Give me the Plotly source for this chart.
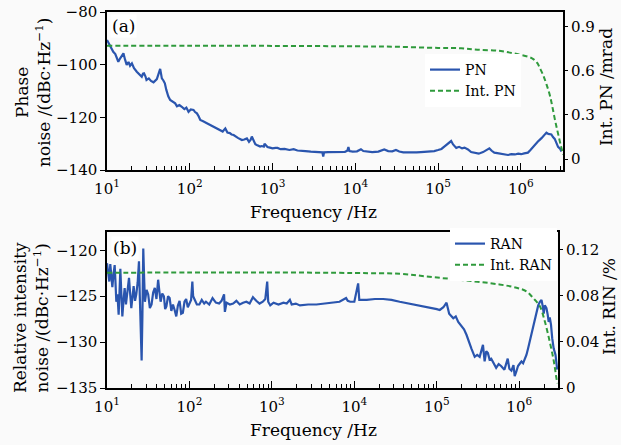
import plotly.graph_objects as go

# ---------------- data ----------------
pn_freq = [10, 10.5, 11.2, 11.9, 12.6, 13.7, 14.5, 15.3, 15.8, 16.5, 17.3, 18.2, 19.0, 20, 21.2, 22.9,
           24.5, 26.3, 27.2, 28, 29.2, 30, 32, 34, 36.5, 38.5, 40, 41.5, 43.9, 45, 46, 48, 50, 52, 55,
           58, 62, 66.7, 70, 75, 80, 86, 91, 96.6, 103, 111, 116, 122, 128, 134, 145, 155, 165, 177,
           190, 205, 220, 234, 250, 269, 285, 305, 320, 339, 360, 385, 405, 427, 455, 490, 520, 545,
           562, 590, 620, 646, 680, 708, 740, 785, 800, 830, 870, 930, 1000, 1090, 1150, 1250, 1400,
           1600, 1800, 2000, 2200, 2500, 2900, 3300, 3800, 4000, 4100, 4200, 4700, 5500, 6500, 7500,
           8000, 8260, 8500, 9300, 10500, 11700, 12500, 14000, 16000, 19000, 22400, 25000, 28000,
           31000, 34000, 38000, 45000, 55000, 62000, 75000, 90000, 100000, 110000, 120000, 132000,
           144000, 152000, 166000, 180000, 195000, 209000, 230000, 251000, 280000, 310000, 350000,
           390000, 417000, 445000, 479000, 520000, 575000, 630000, 700000, 770000, 850000, 930000,
           1010000, 1100000, 1220000, 1300000, 1400000, 1470000, 1600000, 1780000, 1900000, 2040000,
           2150000, 2340000, 2450000, 2570000, 2700000, 2820000, 3000000, 3100000]
pn_val = [-90.6, -92.0, -93.5, -95.1, -96.0, -98.9, -97.5, -96.2, -95.7, -98.0, -100.1, -99.0, -100.4,
          -99.5, -101.3, -102.7, -103.8, -104.6, -103.4, -103.3, -104.5, -105.8, -105.2, -106.2, -106.7,
          -105.9, -105.5, -104.0, -101.6, -103.5, -105.2, -106.0, -107.1, -109.5, -112.0, -113.4, -114.2,
          -114.7, -115.8, -115.3, -116.0, -116.9, -116.3, -117.9, -117.0, -117.2, -118.0, -118.5, -119.6,
          -121.0, -121.5, -122.0, -122.4, -122.9, -123.5, -123.9, -124.5, -124.8, -125.4, -124.2, -125.8,
          -126.0, -126.5, -126.7, -127.4, -127.9, -128.2, -128.6, -128.4, -128.0, -129.3, -128.5, -127.3,
          -129.0, -130.2, -130.5, -130.8, -131.1, -130.9, -131.1, -130.0, -130.6, -131.3, -131.5, -131.8,
          -131.6, -131.6, -132.1, -132.0, -132.4, -132.1, -132.6, -132.6, -132.8, -133.0, -133.1, -133.2,
          -133.3, -134.9, -133.3, -133.2, -133.1, -133.0, -133.1, -132.7, -131.3, -132.8, -133.0, -132.9,
          -132.1, -132.8, -133.1, -133.2, -133.0, -132.2, -132.8, -132.9, -132.4, -133.0, -133.3, -133.4,
          -133.3, -133.2, -133.0, -132.8, -132.4, -132.0, -131.0, -130.0, -129.0, -130.3, -131.6, -131.2,
          -131.8, -131.5, -132.2, -133.2, -133.4, -133.8, -133.2, -132.4, -131.8, -132.7, -133.4, -133.6,
          -133.8, -134.0, -134.3, -134.0, -134.1, -133.8, -134.0, -133.7, -133.4, -132.5, -131.2, -130.5,
          -129.3, -127.9, -126.8, -125.8, -126.3, -126.5, -127.5, -128.2, -129.8, -131.2, -132.0, -133.0]

intpn_freq = [10, 100, 1000, 10000, 31600, 100000, 190000, 300000, 575000, 900000, 1230000, 1400000,
              1580000, 1700000, 1860000, 2040000, 2240000, 2400000, 2570000, 2750000, 2950000, 3100000, 3240000]
intpn_val = [0.772, 0.772, 0.771, 0.768, 0.765, 0.757, 0.755, 0.745, 0.736, 0.715, 0.697, 0.683,
             0.655, 0.620, 0.573, 0.510, 0.436, 0.360, 0.275, 0.200, 0.125, 0.075, 0.030]

ran_freq = [10, 10.3, 10.66, 10.96, 11.27, 11.61, 12.0, 12.39, 12.68, 12.97, 13.4, 13.84, 14.19, 14.52,
            14.93, 15.35, 15.85, 16.37, 16.98, 17.7, 18.49, 19.05, 19.72, 20.42, 21.04, 21.88, 22.65,
            23.55, 24.43, 25.0, 25.59, 26.3, 26.9, 27.3, 27.54, 28.2, 28.84, 30.2, 31.6, 33.1, 34.7,
            36.3, 38.0, 39.8, 41.7, 43.2, 44.7, 46.8, 49.0, 50.7, 52.5, 55.0, 57.5, 60.3, 63.1, 66.1,
            69.2, 72.4, 75.9, 79.4, 83.2, 87.1, 91.2, 95.5, 100, 104.7, 108.4, 110.9, 114.8, 123, 131.8,
            141, 151, 158.5, 173.8, 190.5, 209, 229, 245, 263, 269, 282, 309, 339, 371, 407, 447, 490,
            537, 589, 646, 708, 776, 832, 877, 902, 955, 1047, 1202, 1380, 1514, 1652, 1738, 1950, 2188,
            2754, 3467, 4365, 5495, 6607, 7943, 8318, 8913, 10000, 11117, 11480, 14125, 17783, 22387,
            28184, 35481, 46774, 56234, 70795, 90157, 100000, 108643, 120226, 131220, 136457, 141254,
            158489, 169824, 181970, 199526, 213796, 229087, 245471, 263027, 288403, 309030, 331131,
            363078, 380189, 398107, 416869, 436516, 457088, 489779, 524807, 562341, 602560, 660693,
            724436, 758578, 803526, 851138, 881049, 922571, 966051, 1023293, 1064143, 1114295, 1166810,
            1221800, 1279381, 1348963, 1412538, 1479108, 1548817, 1621810, 1698244, 1778279, 1862087,
            1927525, 1981527, 2041738, 2137962, 2213095, 2275097, 2344229, 2426610, 2511886, 2618183,
            2754229, 2818383, 2884032]
ran_val = [-121.4, -122.5, -123.4, -121.5, -122.8, -124.0, -122.6, -121.6, -123.5, -125.6, -124.8, -127.0,
           -124.5, -122.0, -124.8, -127.2, -125.5, -124.1, -125.9, -124.4, -123.0, -124.6, -126.3, -125.0,
           -123.9, -125.5, -124.8, -123.5, -121.2, -125.0, -129.8, -132.0, -127.0, -122.0, -119.8, -123.0,
           -125.6, -124.3, -124.8, -126.3, -125.9, -124.6, -124.1, -125.3, -123.2, -124.5, -125.6, -124.7,
           -125.0, -126.4, -126.1, -125.0, -125.2, -126.6, -125.9, -126.5, -127.2, -126.0, -125.5, -126.9,
           -126.8, -125.6, -125.3, -126.2, -125.8, -125.4, -123.4, -125.0, -125.3, -125.9, -125.9, -125.4,
           -125.8, -125.6, -125.9, -125.2, -125.7, -125.8, -125.5, -124.8, -126.7, -125.7, -125.9, -125.8,
           -125.5, -125.9, -125.7, -125.6, -125.8, -125.1, -125.5, -125.8, -125.6, -125.3, -123.4, -125.6,
           -126.0, -125.7, -125.9, -125.7, -125.8, -125.4, -125.9, -125.8, -126.0, -125.9, -125.9, -125.8,
           -125.7, -125.6, -125.2, -125.5, -125.6, -125.6, -123.6, -125.4, -125.4, -125.3, -125.3, -125.4,
           -125.6, -125.8, -126.0, -126.1, -126.3, -126.4, -126.5, -126.2, -125.7, -126.3, -126.9, -127.4,
           -127.2, -127.8, -128.2, -128.6, -129.2, -130.0, -130.7, -131.6, -131.4, -131.6, -130.3, -132.1,
           -131.0, -131.2, -131.9, -131.8, -132.3, -132.8, -132.4, -132.6, -133.0, -131.8, -132.9, -133.1,
           -132.5, -133.7, -133.2, -132.6, -132.3, -132.1, -132.3, -131.9, -131.4, -130.7, -129.8, -128.9,
           -128.1, -127.4, -126.7, -126.0, -125.6, -125.4, -126.1, -126.9, -126.0, -126.3, -127.0, -127.8,
           -127.3, -128.1, -129.6, -130.7, -131.4, -132.5, -133.0]

intran_freq = [10, 100, 1000, 10000, 35481, 90157, 229000, 575000, 925000, 1220000, 1470000, 1780000,
               2040000, 2340000, 2630000, 2820000, 2900000]
intran_val = [0.0997, 0.1000, 0.1000, 0.0995, 0.0988, 0.0959, 0.0930, 0.0896, 0.0867, 0.0837, 0.0780,
              0.0707, 0.0577, 0.0403, 0.0229, 0.0087, 0.0040]

x_tickvals = [10, 100, 1000, 10000, 100000, 1000000]
x_ticktext = ["10<sup>1</sup>", "10<sup>2</sup>", "10<sup>3</sup>", "10<sup>4</sup>",
              "10<sup>5</sup>", "10<sup>6</sup>"]
x_minor = [m * 10 ** e for e in range(1, 7) for m in range(2, 10)]

# ---------------- styles ----------------
BLUE = "#2a55ae"
GREEN = "#2f9a3c"
FONT = "DejaVu Serif"
TICKF = dict(family=FONT, size=15, color="black")
DASH = "5px,3px"

fig = go.Figure()
fig.add_trace(go.Scatter(x=pn_freq, y=pn_val, mode="lines", name="PN",
                         line=dict(color=BLUE, width=2.2), xaxis="x", yaxis="y", legend="legend"))
fig.add_trace(go.Scatter(x=intpn_freq, y=intpn_val, mode="lines", name="Int. PN", line_shape="spline",
                         line=dict(color=GREEN, width=2, dash=DASH), xaxis="x", yaxis="y3", legend="legend"))
fig.add_trace(go.Scatter(x=ran_freq, y=ran_val, mode="lines", name="RAN",
                         line=dict(color=BLUE, width=2.2), xaxis="x2", yaxis="y2", legend="legend2"))
fig.add_trace(go.Scatter(x=intran_freq, y=intran_val, mode="lines", name="Int. RAN", line_shape="spline",
                         line=dict(color=GREEN, width=2, dash=DASH), xaxis="x2", yaxis="y4", legend="legend2"))

W, H = 621, 445
top_dom = [1 - 170 / H, 1 - 12 / H]
bot_dom = [1 - 388 / H, 1 - 232 / H]

xcommon = dict(type="log", tickmode="array", tickvals=x_tickvals, ticktext=x_ticktext,
               ticks="inside", ticklen=7, tickwidth=1.2, tickcolor="black",
               minor=dict(tickmode="array", tickvals=x_minor, ticks="inside", ticklen=4,
                          tickwidth=1, tickcolor="black"),
               showline=True, linecolor="black", linewidth=1.5, mirror=True, automargin=False,
               showgrid=False, zeroline=False, tickfont=TICKF, ticklabelstandoff=4)
ycommon = dict(ticks="outside", ticklen=5, tickwidth=1.2, tickcolor="black", automargin=False,
               showline=True, linecolor="black", linewidth=1.5, mirror=True,
               showgrid=False, zeroline=False, tickfont=TICKF)
rcommon = dict(ticks="outside", ticklen=4, tickwidth=1.2, tickcolor="black", automargin=False,
               showline=False, showgrid=False, zeroline=False, tickfont=TICKF, side="right")

LEGF = dict(family=FONT, size=14, color="black")
fig.update_layout(
    width=W, height=H,
    margin=dict(l=0, r=0, t=0, b=0, pad=0, autoexpand=False),
    paper_bgcolor="#fafafa", plot_bgcolor="#fafafa",
    font=dict(family=FONT, color="black"),
    xaxis=dict(domain=[107 / W, 563 / W], range=[1, 6.51], anchor="y", **xcommon),
    yaxis=dict(domain=top_dom, range=[-140, -80], tickvals=[-140, -120, -100, -80], anchor="x", **ycommon),
    yaxis3=dict(overlaying="y", anchor="x", range=[-0.075, 1.002], tickvals=[0, 0.3, 0.6, 0.9],
                ticktext=["0", "0.3", "0.6", "0.9"], **rcommon),
    xaxis2=dict(domain=[107 / W, 558 / W], range=[1, 6.47], anchor="y2", **xcommon),
    yaxis2=dict(domain=bot_dom, range=[-135, -118], tickvals=[-135, -130, -125, -120], anchor="x2", **ycommon),
    yaxis4=dict(overlaying="y2", anchor="x2", range=[0, 0.135], tickvals=[0, 0.04, 0.08, 0.12],
                ticktext=["0", "0.04", "0.08", "0.12"], **rcommon),
    legend=dict(x=425 / W, y=1 - 54 / H, xanchor="left", yanchor="top", bgcolor="white",
                font=LEGF, tracegroupgap=0, itemwidth=30),
    legend2=dict(x=450 / W, y=1 - 228 / H, xanchor="left", yanchor="top", bgcolor="white",
                 font=LEGF, tracegroupgap=0, itemwidth=30),
    showlegend=True,
)

ann = [
    dict(text="(a)", x=123 / W, y=1 - 26 / H, xanchor="center", yanchor="middle", bgcolor="white",
         font=dict(family=FONT, size=17)),
    dict(text="(b)", x=125 / W, y=1 - 248 / H, xanchor="center", yanchor="middle", bgcolor="white",
         font=dict(family=FONT, size=17)),
    dict(text="Frequency /Hz", x=313 / W, y=1 - 212 / H, xanchor="center", yanchor="middle",
         font=dict(family=FONT, size=17)),
    dict(text="Frequency /Hz", x=313 / W, y=1 - 430 / H, xanchor="center", yanchor="middle",
         font=dict(family=FONT, size=17)),
    dict(text="Phase<br>noise /(dBc·Hz<sup>−1</sup>)", x=33 / W, y=1 - 93 / H, textangle=-90,
         xanchor="center", yanchor="middle", font=dict(family=FONT, size=17)),
    dict(text="Relative intensity<br>noise /(dBc·Hz<sup>−1</sup>)", x=31 / W, y=1 - 318 / H, textangle=-90,
         xanchor="center", yanchor="middle", font=dict(family=FONT, size=17)),
    dict(text="Int. PN /mrad", x=606 / W, y=1 - 87 / H, textangle=-90,
         xanchor="center", yanchor="middle", font=dict(family=FONT, size=17)),
    dict(text="Int. RIN /%", x=609 / W, y=1 - 307 / H, textangle=-90,
         xanchor="center", yanchor="middle", font=dict(family=FONT, size=17)),
]
for a in ann:
    a.update(xref="paper", yref="paper", showarrow=False)
fig.update_layout(annotations=ann)

fig.write_html("out.html", config={"displayModeBar": False},
               post_script="document.body.style.margin='0px';")
